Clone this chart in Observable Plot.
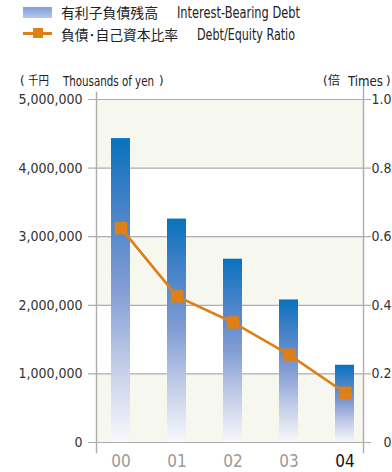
<!DOCTYPE html>
<html><head><meta charset="utf-8">
<script src="https://cdn.jsdelivr.net/npm/d3@7"></script>
<script src="https://cdn.jsdelivr.net/npm/@observablehq/plot@0.6"></script>
<style>
body{margin:0;background:#fff;}
#wrap{position:relative;width:392px;height:472px;overflow:hidden;font-family:"Liberation Sans Narrow","Arial Narrow","DejaVu Sans Condensed","Noto Sans CJK JP",sans-serif;color:#222;}
#wrap svg{position:absolute;left:0;top:0;}
.t{position:absolute;white-space:nowrap;line-height:16px;transform-origin:0 50%;}
.cjk{font-family:"Noto Sans CJK JP",sans-serif;}
</style></head><body><div id="wrap"></div>
<script>
// ---- data ----
const years = ["00", "01", "02", "03", "04"];
const debt = [4430000, 3257000, 2672000, 2078000, 1126000];   // 千円
const ratio = [0.625, 0.426, 0.350, 0.256, 0.145];            // 倍
const leftTicks = [0, 1000000, 2000000, 3000000, 4000000, 5000000];
const rightTickLabels = ["0", "0.2", "0.4", "0.6", "0.8", "1.0"];
const debtMax = 5000000, ratioMax = 1.0;
const shadedBands = [[0, 1000000], [2000000, 3000000], [4000000, 5000000]];
const highlightYear = "04";

const data = years.map((y, i) => ({year: y, debt: debt[i], ratio: ratio[i]}));
const FONT = '"Liberation Sans Narrow","Arial Narrow","DejaVu Sans Condensed",sans-serif';

const defs = () => {
  const d = d3.create("svg:defs");
  const g = d.append("linearGradient").attr("id", "barGrad")
    .attr("x1", 0).attr("y1", 0).attr("x2", 0).attr("y2", 1);
  [[0, "#0872bd"], [0.25, "#4a84c9"], [0.5, "#839dd4"], [0.75, "#c3cde8"], [1, "#f8f8fc"]]
    .forEach(([o, c]) => g.append("stop").attr("offset", o).attr("stop-color", c));
  return d.node();
};

const chart = Plot.plot({
  width: 392, height: 472,
  marginLeft: 96, marginRight: 29, marginTop: 99, marginBottom: 30,
  style: {fontFamily: FONT, fontSize: "14px", background: "transparent", overflow: "visible"},
  x: {type: "band", domain: years, range: [90.75, 373.25], paddingInner: 0.664, paddingOuter: 0.332, axis: null},
  y: {domain: [0, debtMax], axis: null},
  marks: [
    defs,
    Plot.rect(shadedBands, {y1: d => d[0], y2: d => d[1], fill: "#f6f7ee"}),
    Plot.ruleY(leftTicks, {stroke: "#adadad", strokeWidth: 1.2, insetLeft: -8, insetRight: -8}),
    Plot.frame({anchor: "left", stroke: "#adadad", strokeWidth: 1.4, insetTop: -7, insetBottom: -10}),
    Plot.frame({anchor: "right", stroke: "#adadad", strokeWidth: 1.4, insetTop: -16, insetBottom: -10}),
    Plot.barY(data, {x: "year", y: "debt", fill: "url(#barGrad)"}),
    Plot.line(data, {x: "year", y: d => d.ratio / ratioMax * debtMax, stroke: "#de7f17", strokeWidth: 2.6}),
    Plot.dot(data, {x: "year", y: d => d.ratio / ratioMax * debtMax, symbol: "square", r: 7, fill: "#de7f17", stroke: "none"}),
    Plot.axisY({ticks: leftTicks, tickSize: 0, tickPadding: 14, tickFormat: d3.format(","), fill: "#333", fontSize: 14, label: null}),
    Plot.axisY({anchor: "right", ticks: leftTicks, tickSize: 0, tickPadding: 28, textAnchor: "end",
      tickFormat: d => rightTickLabels[leftTicks.indexOf(d)], fill: "#333", fontSize: 14, label: null}),
    Plot.axisX({ticks: years.filter(y => y !== highlightYear), tickSize: 0, tickPadding: 12, fill: "#999", fontSize: 17, label: null}),
    Plot.axisX({ticks: [highlightYear], tickSize: 0, tickPadding: 12, fill: "#111", fontSize: 17, label: null})
  ]
});

const wrap = document.getElementById("wrap");
wrap.appendChild(chart);

// place a text; optional target width squeezes it horizontally like the condensed original face
const add = (html, left, top, size, targetW) => {
  const s = document.createElement("div");
  s.className = "t";
  s.style.cssText = `left:${left}px;top:${top}px;font-size:${size}px;`;
  s.innerHTML = html;
  wrap.appendChild(s);
  if (targetW) {
    const w = s.getBoundingClientRect().width;
    if (w > 0) s.style.transform = `scaleX(${targetW / w})`;
  }
  return s;
};
// legend swatches
const sw = document.createElement("div");
sw.style.cssText = "position:absolute;left:23px;top:7px;width:29px;height:11px;background:linear-gradient(#7f9fdb,#b6c7ea);";
wrap.appendChild(sw);
const ln = document.createElement("div");
ln.style.cssText = "position:absolute;left:23px;top:32px;width:29px;height:3px;background:#de7f17;";
wrap.appendChild(ln);
const sq = document.createElement("div");
sq.style.cssText = "position:absolute;left:33px;top:28px;width:10px;height:10px;background:#de7f17;";
wrap.appendChild(sq);
// legend text
add('<span class="cjk">有利子負債残高</span>', 61, 4, 14, 97);
add('Interest-Bearing Debt', 177, 5, 15, 123);
add('<span class="cjk">負債･自己資本比率</span>', 61, 26, 14, 117);
add('Debt/Equity Ratio', 197, 27, 15, 98);
// axis titles
add('(', 20, 73, 13);
add('<span class="cjk">千円</span>', 28, 72, 12, 21);
add('Thousands of yen', 63, 73, 14, 91);
add(')', 159, 73, 13);
add('(', 323, 73, 13);
add('<span class="cjk">倍</span>', 328, 72, 12, 12);
add('Times', 348, 73, 14, 35);
add(')', 386, 73, 13);
</script></body></html>
